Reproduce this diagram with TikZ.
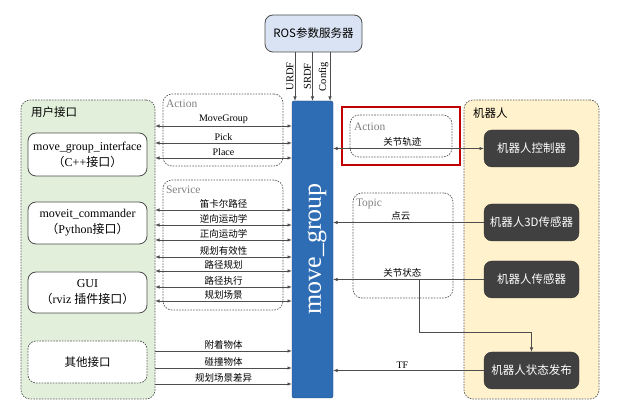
\documentclass[tikz,border=0pt]{standalone}
\usepackage{fontspec}
\setmainfont{Liberation Serif}
\newfontfamily\cjk{Noto Sans CJK SC}
\usetikzlibrary{arrows.meta}
\newcommand\zh[1]{{\cjk #1}}
\definecolor{greenfill}{HTML}{E2EFDA}
\definecolor{yellowfill}{HTML}{FFF2CC}
\definecolor{rosfill}{HTML}{DAE3F3}
\definecolor{mgblue}{HTML}{2E6DB4}
\definecolor{darkfill}{HTML}{404040}
\definecolor{linegray}{HTML}{4D4D4D}
\definecolor{dashgray}{HTML}{595959}
\definecolor{redframe}{HTML}{C00000}
\tikzset{
  every node/.style={inner sep=0pt, outer sep=0pt},
  panel/.style={draw=dashgray, dash pattern=on 1.6pt off 1.2pt, rounded corners=9pt, line width=0.7pt},
  subbox/.style={draw=linegray, fill=white, rounded corners=8pt, line width=0.8pt, minimum width=119pt, align=center, font=\fontsize{12}{16}\selectfont},
  darkbox/.style={fill=darkfill, draw=black!80, rounded corners=8pt, minimum width=95pt, minimum height=37pt, text=white, font=\cjk\fontsize{11.5}{13}\selectfont},
  conn/.style={draw=linegray, line width=0.8pt},
  arr/.style={-{Latex[length=4.5pt,width=3.5pt]}},
  darr/.style={{Latex[length=4.5pt,width=3.5pt]}-{Latex[length=4.5pt,width=3.5pt]}},
  zlbl/.style={font=\cjk\fontsize{9.5}{11}\selectfont, above=2pt},
  elbl/.style={font=\fontsize{10}{12}\selectfont, above=2pt},
  grp/.style={text=gray, font=\fontsize{11.5}{13}\selectfont, anchor=west},
  ttl/.style={anchor=west, font=\cjk\fontsize{11.5}{13}\selectfont}
}
\begin{document}
\begin{tikzpicture}[x=1pt,y=-1pt]
\useasboundingbox (0,0) rectangle (625,419);
% panels
\node[panel, fill=greenfill, minimum width=134pt, minimum height=299pt] (user) at (88,249.5) {};
\node[ttl] (usert) at (31,112) {用户接口};
\node[panel, fill=yellowfill, minimum width=135pt, minimum height=299pt] (robot) at (531.5,249.5) {};
\node[ttl] (robott) at (473,113) {机器人};
\node[panel, minimum width=120pt, minimum height=72pt] (actL) at (223,130) {};
\node[grp] (actLt) at (166,104) {Action};
\node[panel, minimum width=120pt, minimum height=130pt] (svc) at (223,245) {};
\node[grp] (svct) at (166,190) {Service};
\node[draw=redframe, line width=1.8pt, minimum width=118pt, minimum height=58pt] (redf) at (401,136) {};
\node[panel, minimum width=102pt, minimum height=42pt] (actR) at (401,136) {};
\node[grp] (actRt) at (354,127) {Action};
\node[panel, minimum width=100pt, minimum height=105pt] (topic) at (403,245.5) {};
\node[grp] (topict) at (356,204) {Topic};
% user sub boxes
\node[subbox, minimum height=43pt] (mgi) at (87.5,154.5) {move\_group\_interface\\\zh{（}C++\zh{接口）}};
\node[subbox, minimum height=42pt] (mc) at (87.5,223) {moveit\_commander\\\zh{（}Python\zh{接口）}};
\node[subbox, minimum height=41pt] (gui) at (87.5,292.5) {GUI\\\zh{（}rviz \zh{插件接口）}};
\node[subbox, dash pattern=on 1.6pt off 1.2pt, draw=dashgray, minimum height=42pt, font=\cjk\fontsize{11.5}{13}\selectfont] (other) at (87.5,362) {其他接口};
% robot boxes
\node[darkbox] (ctrl) at (531.5,148.5) {机器人控制器};
\node[darkbox] (s3d) at (531.5,222.5) {机器人3D传感器};
\node[darkbox] (sens) at (531.5,279.5) {机器人传感器};
\node[darkbox] (pub) at (531.5,370.5) {机器人状态发布};
% ROS param server
\node[draw=linegray, fill=rosfill, rounded corners=8pt, line width=0.8pt, minimum width=97pt, minimum height=37pt, font=\cjk\fontsize{11.5}{13}\selectfont] (ros) at (313.5,33.5) {ROS参数服务器};
% move_group
\node[fill=mgblue, draw=mgblue!70!black, rounded corners=2pt, minimum width=41pt, minimum height=297pt] (mg) at (312.5,249.5) {};
\node[rotate=90, text=white, font=\fontsize{26}{28}\selectfont] (mgt) at (317,249) {move\_group};
% ROS arrows
\foreach \x/\t in {295/URDF, 312.5/SRDF, 330/Config}
  \draw[conn, arr] (ros.south -| \x,0) -- (mg.north -| \x,0)
    node[midway, rotate=90, anchor=south, inner sep=1.5pt, font=\fontsize{10.5}{12}\selectfont] {\t};
% action arrows
\foreach \y/\t in {126/MoveGroup, 143/Pick, 158/Place}
  \draw[conn, darr] (user.east |- 0,\y) -- (mg.west |- 0,\y) node[midway, elbl] {\t};
% service arrows
\foreach \y/\t in {210/笛卡尔路径, 225/逆向运动学, 240/正向运动学, 257/规划有效性, 271/路径规划, 287/路径执行, 301/规划场景}
  \draw[conn, darr] (user.east |- 0,\y) -- (mg.west |- 0,\y) node[midway, zlbl] {\t};
% other arrows
\foreach \y/\t in {351/附着物体, 368/碰撞物体, 384/规划场景差异}
  \draw[conn, arr] (user.east |- 0,\y) -- (mg.west |- 0,\y) node[midway, zlbl] {\t};
% right side
\draw[conn, darr] (mg.east |- ctrl.west) -- (ctrl.west) node[pos=0.46, zlbl] {关节轨迹};
\draw[conn, arr] (s3d.west) -- (mg.east |- s3d.west) node[pos=0.55, zlbl] {点云};
\draw[conn, arr] (sens.west) -- (mg.east |- sens.west) node[pos=0.54, zlbl] {关节状态};
\draw[conn, arr] (pub.west) -- (mg.east |- pub.west) node[pos=0.54, elbl] {TF};
\coordinate (br) at (419,279.5);
\draw[conn, arr] (br) -- ++(0,52.5) -| (pub.north);
\end{tikzpicture}
\end{document}
